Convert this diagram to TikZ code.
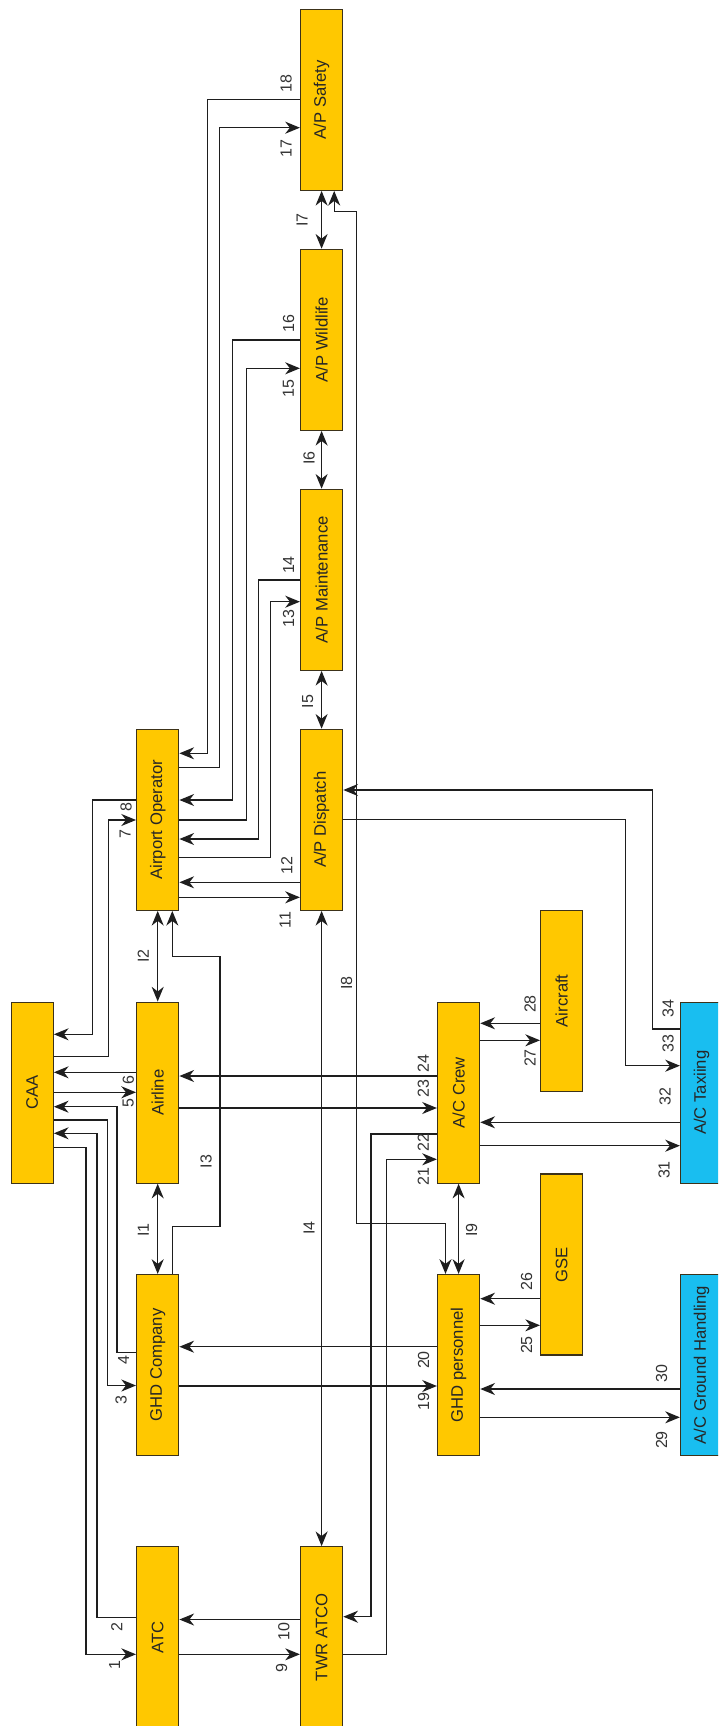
\documentclass[tikz,border=0pt]{standalone}
\usepackage{fontspec}
\setmainfont{Liberation Sans}
\usetikzlibrary{arrows.meta}
\definecolor{boxyellow}{RGB}{255,200,0}
\definecolor{boxblue}{RGB}{25,190,240}
\definecolor{boxline}{RGB}{60,50,25}
\definecolor{conline}{RGB}{30,30,30}
\begin{document}
\begin{tikzpicture}[x=0.75pt,y=-0.75pt,
  box/.style={draw=boxline, line width=0.9pt, fill=boxyellow, minimum width=31.65pt,
    minimum height=135.75pt, inner sep=0pt, font=\fontsize{12.5}{14}\selectfont, text=black!85},
  bluebox/.style={box, fill=boxblue},
  lab/.style={font=\fontsize{12}{14}\selectfont, text=black!80, rotate=90, inner sep=0pt},
  con/.style={draw=conline, line width=0.95pt},
  tip/.tip={Stealth[length=11pt,width=9pt,inset=3.5pt]},
  arr/.style={con, -tip},
  darr/.style={con, tip-tip}]
\useasboundingbox (0,0) rectangle (718,1726);
\clip (0,0) rectangle (718,1726);
\fill[white] (0,0) rectangle (718,1726);
% boxes
\node[box] (caa) at (32.2,1092.6) {\rotatebox{90}{CAA}};
\node[box] (airline) at (157.7,1092.6) {\rotatebox{90}{Airline}};
\node[box] (ao) at (157.7,819.8) {\rotatebox{90}{Airport Operator}};
\node[box] (ghdc) at (157.7,1365) {\rotatebox{90}{GHD Company}};
\node[box] (atc) at (157.7,1637.2) {\rotatebox{90}{ATC}};
\node[box] (twr) at (321.6,1637.2) {\rotatebox{90}{TWR ATCO}};
\node[box] (disp) at (321.6,819.8) {\rotatebox{90}{A/P Dispatch}};
\node[box] (maint) at (321.6,579.8) {\rotatebox{90}{A/P Maintenance}};
\node[box] (wild) at (321.6,339.8) {\rotatebox{90}{A/P Wildlife}};
\node[box] (sfty) at (321.6,99.8) {\rotatebox{90}{A/P Safety}};
\node[box] (ghdp) at (458.6,1365) {\rotatebox{90}{GHD personnel}};
\node[box] (crew) at (458.6,1092.6) {\rotatebox{90}{A/C Crew}};
\node[box] (acft) at (561.7,1000.8) {\rotatebox{90}{Aircraft}};
\node[box] (gse) at (561.7,1264.5) {\rotatebox{90}{GSE}};
\node[bluebox] (taxi) at (701.6,1092.6) {\rotatebox{90}{A/C Taxiing}};
\node[bluebox] (gh) at (701.6,1365) {\rotatebox{90}{A/C Ground Handling}};
% numbered connectors
\draw[arr] (caa.east |- 0,1147.3) -| (86,1654.3) -- (atc.west |- 0,1654.3);
\draw[arr] (atc.west |- 0,1617.7) -| (97,1133.3) -- (caa.east |- 0,1133.3);
\draw[arr] (caa.east |- 0,1120) -| (107.3,1385.5) -- (ghdc.west |- 0,1385.5);
\draw[arr] (ghdc.west |- 0,1352.3) -| (117,1106.7) -- (caa.east |- 0,1106.7);
\draw[arr] (caa.east |- 0,1092.3) -- (airline.west |- 0,1092.3);
\draw[arr] (airline.west |- 0,1072.3) -- (caa.east |- 0,1072.3);
\draw[arr] (caa.east |- 0,1056.7) -| (108.8,820) -- (ao.west |- 0,820);
\draw[arr] (ao.west |- 0,800) -| (92.7,1034.3) -- (caa.east |- 0,1034.3);
\draw[arr] (atc.east |- 0,1654.3) -- (twr.west |- 0,1654.3);
\draw[arr] (twr.west |- 0,1619.5) -- (atc.east |- 0,1619.5);
\draw[arr] (ao.east |- 0,897.3) -- (disp.west |- 0,897.3);
\draw[arr] (disp.west |- 0,882.3) -- (ao.east |- 0,882.3);
\draw[arr] (ao.east |- 0,857.5) -| (270.5,601.7) -- (maint.west |- 0,601.7);
\draw[arr] (maint.west |- 0,580) -| (258.5,839) -- (ao.east |- 0,839);
\draw[arr] (ao.east |- 0,820) -| (246.5,368.3) -- (wild.west |- 0,368.3);
\draw[arr] (wild.west |- 0,340) -| (232.6,800) -- (ao.east |- 0,800);
\draw[arr] (ao.east |- 0,767.5) -| (219.5,127.7) -- (sfty.west |- 0,127.7);
\draw[arr] (sfty.west |- 0,99.3) -| (207.5,753.3) -- (ao.east |- 0,753.3);
\draw[arr] (ghdc.east |- 0,1386) -- (ghdp.west |- 0,1386);
\draw[arr] (ghdp.west |- 0,1346.7) -- (ghdc.east |- 0,1346.7);
\draw[arr] (twr.east |- 0,1654.3) -| (386.5,1159.3) -- (crew.west |- 0,1159.3);
\draw[arr] (crew.west |- 0,1134) -| (371,1616.7) -- (twr.east |- 0,1616.7);
\draw[arr] (airline.east |- 0,1108) -- (crew.west |- 0,1108);
\draw[arr] (crew.west |- 0,1076) -- (airline.east |- 0,1076);
\draw[arr] (ghdp.east |- 0,1325.3) -- (gse.west |- 0,1325.3);
\draw[arr] (gse.west |- 0,1298.7) -- (ghdp.east |- 0,1298.7);
\draw[arr] (crew.east |- 0,1040.3) -- (acft.west |- 0,1040.3);
\draw[arr] (acft.west |- 0,1023.3) -- (crew.east |- 0,1023.3);
\draw[arr] (ghdp.east |- 0,1417.3) -- (gh.west |- 0,1417.3);
\draw[arr] (gh.west |- 0,1389) -- (ghdp.east |- 0,1389);
\draw[arr] (crew.east |- 0,1145.7) -- (taxi.west |- 0,1145.7);
\draw[arr] (taxi.west |- 0,1122.3) -- (crew.east |- 0,1122.3);
\draw[arr] (disp.east |- 0,819.5) -| (625.7,1065.7) -- (taxi.west |- 0,1065.7);
\draw[arr] (taxi.west |- 0,1029) -| (652.3,790) -- (disp.east |- 0,790);
% interfaces
\draw[darr] (airline.south) -- (ghdc.north);
\draw[darr] (ao.south) -- (airline.north);
\draw[arr] (ghdc.north -| 172.3,0) -- (172.3,1226.7) -| (220,956.7) -| (ao.south -| 172.3,0);
\draw[darr] (disp.south) -- (twr.north);
\draw[darr] (maint.south) -- (disp.north);
\draw[darr] (wild.south) -- (maint.north);
\draw[darr] (sfty.south) -- (wild.north);
\draw[darr] (sfty.south -| 334.2,0) -- (334.2,211.7) -| (356.5,1223.5) -| (ghdp.north -| 445.5,0);
\draw[darr] (crew.south) -- (ghdp.north);
% number labels
\node[lab] (n1) at (114.5,1665) {1};
\node[lab] (n2) at (116.8,1627) {2};
\node[lab] (n3) at (121,1400) {3};
\node[lab] (n4) at (123.6,1360) {4};
\node[lab] (n5) at (128.3,1103.3) {5};
\node[lab] (n6) at (128.3,1080) {6};
\node[lab] (n7) at (125,834) {7};
\node[lab] (n8) at (126,807.3) {8};
\node[lab] (n9) at (281.6,1668.3) {9};
\node[lab] (n10) at (283.9,1631.7) {10};
\node[lab] (n11) at (285,920) {11};
\node[lab] (n12) at (286.7,865.7) {12};
\node[lab] (n13) at (288.5,618.3) {13};
\node[lab] (n14) at (288.5,565) {14};
\node[lab] (n15) at (288.5,388.3) {15};
\node[lab] (n16) at (288.5,323.3) {16};
\node[lab] (n17) at (286,148.3) {17};
\node[lab] (n18) at (286,83.3) {18};
\node[lab] (n19) at (423.5,1401.7) {19};
\node[lab] (n20) at (423.5,1360) {20};
\node[lab] (n21) at (423.3,1176.7) {21};
\node[lab] (n22) at (423.3,1142.7) {22};
\node[lab] (n23) at (423.3,1088.3) {23};
\node[lab] (n24) at (423.3,1063.3) {24};
\node[lab] (n25) at (526.5,1345) {25};
\node[lab] (n26) at (526.5,1281.7) {26};
\node[lab] (n27) at (530,1058) {27};
\node[lab] (n28) at (530,1004) {28};
\node[lab] (n29) at (661.6,1440) {29};
\node[lab] (n30) at (661.6,1373.3) {30};
\node[lab] (n31) at (664,1170) {31};
\node[lab] (n32) at (665,1096.7) {32};
\node[lab] (n33) at (668,1043.3) {33};
\node[lab] (n34) at (668,1008.3) {34};
% interface labels
\node[lab] (i1) at (143.3,1230) {I1};
\node[lab] (i2) at (143.3,956) {I2};
\node[lab] (i3) at (206,1161.7) {I3};
\node[lab] (i4) at (309,1228) {I4};
\node[lab] (i5) at (307.7,701.7) {I5};
\node[lab] (i6) at (309,458.3) {I6};
\node[lab] (i7) at (302,220) {I7};
\node[lab] (i8) at (346.6,983.3) {I8};
\node[lab] (i9) at (471.6,1230) {I9};
\end{tikzpicture}
\end{document}
